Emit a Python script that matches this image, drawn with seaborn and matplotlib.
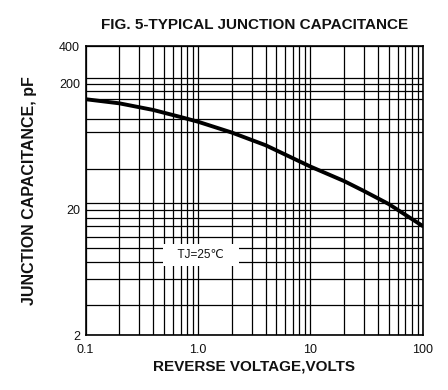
import matplotlib
matplotlib.use("Agg")
import matplotlib.pyplot as plt
import seaborn as sns
import pandas as pd

# ---- data ----
voltage = [0.1, 0.2, 0.4, 0.7, 1, 2, 4, 10, 20, 30, 50, 100]
capacitance = [151, 140, 124, 109, 100, 82, 65, 44, 33.7, 28.1, 22.1, 14.8]

x_ticks = [0.1, 1, 10, 100]
x_tick_labels = ["0.1", "1.0", "10", "100"]
y_ticks = [2, 20, 200, 400]
y_tick_labels = ["2", "20", "200", "400"]
x_grid = [0.2, 0.3, 0.4, 0.5, 0.6, 0.7, 0.8, 0.9,
          2, 3, 4, 5, 6, 7, 8, 9,
          20, 30, 40, 50, 60, 70, 80, 90]
y_grid = [221, 175, 152, 106, 83, 42, 22.4, 17.2, 14.8, 12.2, 9.9, 7.6, 5.6, 3.5]

note_text = "TJ=25℃"
note_x, note_y = 1.06, 8.7

df = pd.DataFrame({"V": voltage, "C": capacitance})

sns.set_style("white")
plt.rcParams["font.family"] = ["Liberation Sans", "DejaVu Sans"]

fig = plt.figure(figsize=(4.48, 3.90), dpi=100)
ax = fig.add_axes([0.191, 0.1403, 0.7525, 0.7417])

ax.set_xscale("log")
ax.set_yscale("log")
ax.set_xlim(0.1, 100)
ax.set_ylim(2, 400)

ax.set_xticks(x_ticks)
ax.set_xticklabels(x_tick_labels)
ax.set_xticks(x_grid, minor=True)
ax.set_yticks(y_ticks)
ax.set_yticklabels(y_tick_labels)
ax.set_yticks(y_grid, minor=True)
ax.tick_params(which="both", length=0, labelsize=9, colors="#111111", pad=4)
ax.tick_params(axis="x", which="major", pad=6)
ax.tick_params(axis="y", which="minor", labelleft=False)
ax.tick_params(axis="x", which="minor", labelbottom=False)

ax.grid(True, which="both", color="black", linewidth=0.9)
ax.set_axisbelow(True)
for s in ax.spines.values():
    s.set_color("black")
    s.set_linewidth(1.2)

sns.lineplot(data=df, x="V", y="C", ax=ax, color="black", linewidth=2.8, zorder=5)

ax.text(note_x, note_y, "   " + note_text + "   ", fontsize=8.5, ha="center", va="center",
        color="#111111", zorder=6,
        bbox=dict(facecolor="white", edgecolor="none", boxstyle="square,pad=0.45"))

ax.set_xlabel("REVERSE VOLTAGE,VOLTS", fontsize=11, fontweight="bold", labelpad=3,
              color="#111111")
ax.set_ylabel("JUNCTION CAPACITANCE, pF", fontsize=11.5, fontweight="bold", labelpad=16,
              color="#111111")
ax.set_title("FIG. 5-TYPICAL JUNCTION CAPACITANCE", fontsize=11, fontweight="bold", pad=12,
             color="#111111")

fig.savefig("out.png", dpi=100)
